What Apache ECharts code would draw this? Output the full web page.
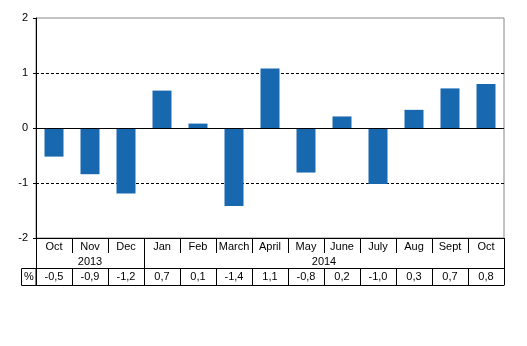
<!DOCTYPE html>
<html><head><meta charset="utf-8">
<script src="https://cdn.jsdelivr.net/npm/echarts@6/dist/echarts.min.js"></script>
<style>html,body{margin:0;padding:0;background:#fff}#c{width:527px;height:346px}</style>
</head><body><div id="c"></div>
<script>
const months = ['Oct','Nov','Dec','Jan','Feb','March','April','May','June','July','Aug','Sept','Oct'];
const values = [-0.52,-0.84,-1.19,0.68,0.08,-1.42,1.08,-0.81,0.21,-1.02,0.33,0.72,0.80];
const tableValues = ['-0,5','-0,9','-1,2','0,7','0,1','-1,4','1,1','-0,8','0,2','-1,0','0,3','0,7','0,8'];
const years = ['2013','2014'];
const yearStarts = [0,3];   // category index where each year begins
const yTicks = [-2,-1,0,1,2];

const FONT = 'Liberation Sans, Arial, sans-serif';
const n = months.length;
const yearBounds = yearStarts.concat([n]);
const yearCenters = years.map((y,i)=> (yearBounds[i]+yearBounds[i+1])/2);

const chart = echarts.init(document.getElementById('c'), null, {renderer:'canvas'});
const txt = {color:'#000', fontFamily:FONT, fontSize:11};
chart.setOption({
  animation:false,
  grid:{left:36,right:23,top:18,bottom:108,show:true,borderColor:'#888',borderWidth:1,backgroundColor:'transparent'},
  xAxis:[
    {type:'category',data:months,position:'bottom',offset:0,
     axisLine:{onZero:false,lineStyle:{color:'#000',width:1}},
     axisTick:{show:true,interval:0,length:15,lineStyle:{color:'#000'}},
     axisLabel:Object.assign({interval:0,margin:3},txt),
     splitLine:{show:false}},
    {type:'value',min:0,max:n,position:'bottom',offset:15,
     axisLine:{show:false,onZero:false},
     axisTick:{show:true,customValues:yearBounds,length:15,lineStyle:{color:'#000'}},
     axisLabel:Object.assign({customValues:yearCenters,margin:3,
        formatter:(v)=>{const i=yearCenters.indexOf(v);return i>=0?years[i]:'';}},txt),
     splitLine:{show:false}},
    {type:'category',data:tableValues,position:'bottom',offset:30,
     axisLine:{show:true,onZero:false,lineStyle:{color:'#000'}},
     axisTick:{show:true,interval:0,length:17,lineStyle:{color:'#000'}},
     axisLabel:Object.assign({interval:0,margin:3},txt),
     splitLine:{show:false}},
    {type:'category',data:months,position:'bottom',offset:47,
     axisLine:{show:true,onZero:false,lineStyle:{color:'#000'}},
     axisTick:{show:false},axisLabel:{show:false},splitLine:{show:false}}
  ],
  yAxis:{type:'value',min:-2,max:2,interval:1,
    axisLine:{show:true,lineStyle:{color:'#000'}},
    axisTick:{show:true,length:3,lineStyle:{color:'#000'}},
    axisLabel:Object.assign({margin:8,formatter:(v)=>String(v)},txt),
    splitLine:{show:true,showMinLine:false,showMaxLine:false,lineStyle:{color:'#000',type:[3,2],width:1}}},
  series:[{type:'bar',data:values,barWidth:19,itemStyle:{color:'#1868b0'},
    markLine:{silent:true,symbol:'none',label:{show:false},
      lineStyle:{color:'#000',type:'solid',width:1},data:[{yAxis:0}]}}],
  graphic:[
    {type:'rect',shape:{x:21.5,y:268.5,width:14.5,height:17},style:{fill:'none',stroke:'#000',lineWidth:1}},
    {type:'text',x:29,y:277,style:{text:'%',fill:'#000',font:'11px '+FONT,textAlign:'center',textVerticalAlign:'middle'}}
  ]
});
</script></body></html>
